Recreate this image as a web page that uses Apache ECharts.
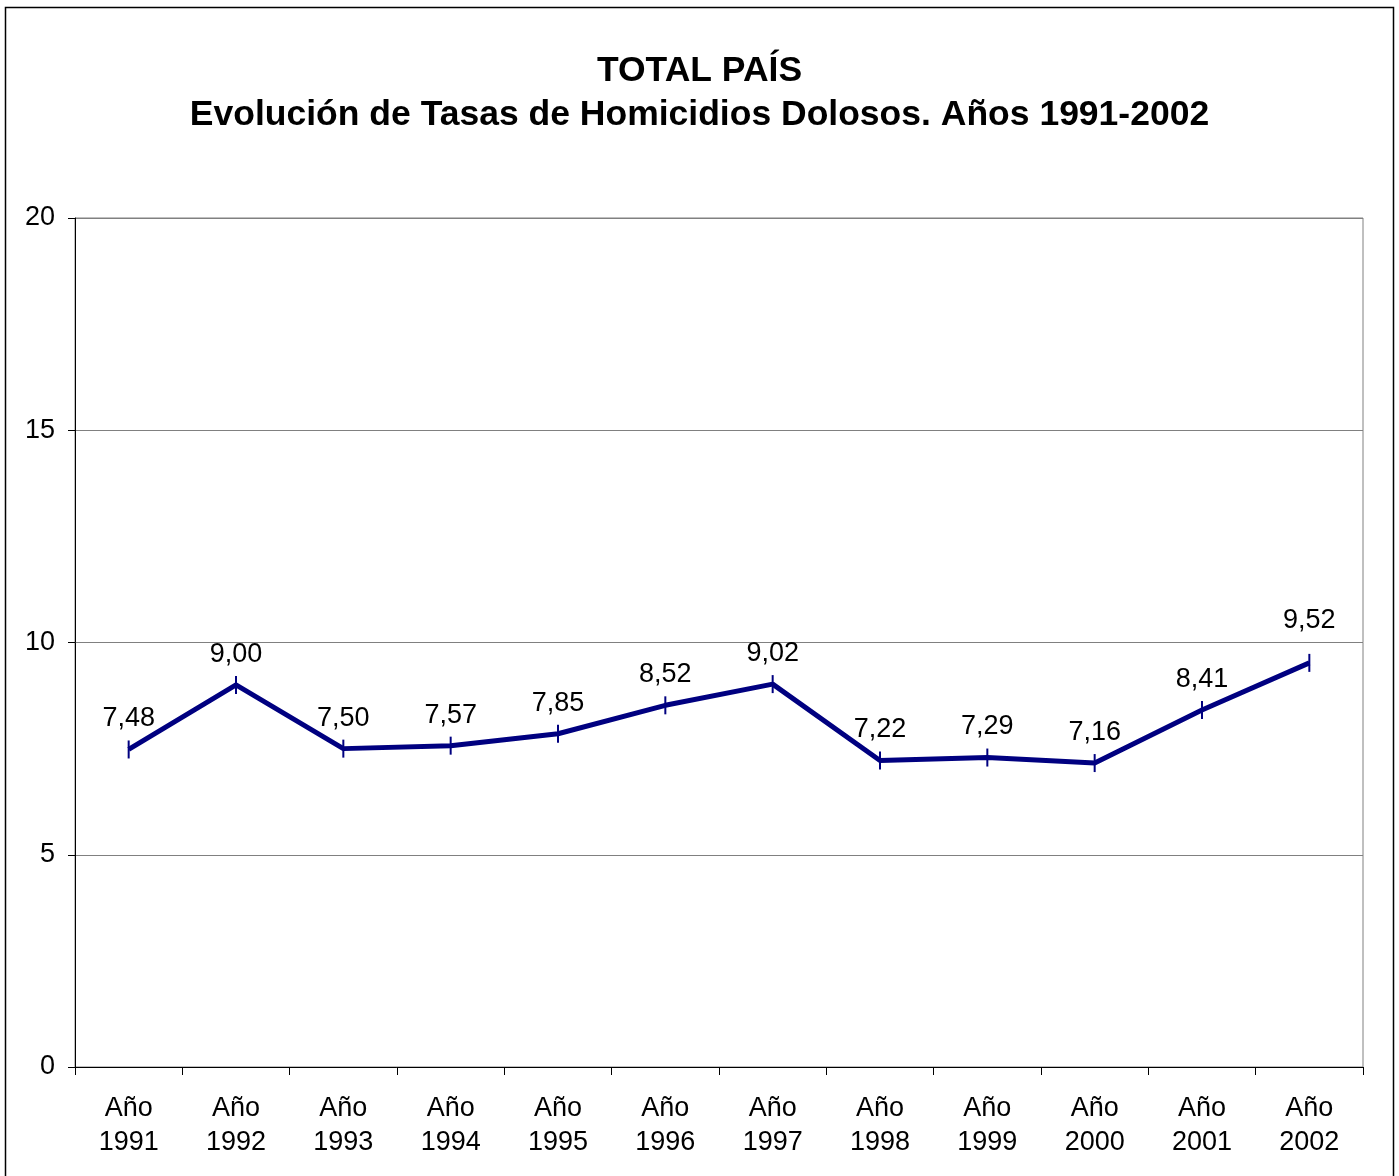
<!DOCTYPE html>
<html>
<head>
<meta charset="utf-8">
<script src="https://cdn.jsdelivr.net/npm/echarts@6/dist/echarts.min.js"></script>
<style>
  html, body { margin: 0; padding: 0; background: #fff; }
  #chart { width: 1399px; height: 1176px; }
</style>
</head>
<body>
<div id="chart"></div>
<script>
// datos
const years = ["1991", "1992", "1993", "1994", "1995", "1996", "1997", "1998", "1999", "2000", "2001", "2002"];
const tasas = [7.48, 9.00, 7.50, 7.57, 7.85, 8.52, 9.02, 7.22, 7.29, 7.16, 8.41, 9.52];
const yTicks = [0, 5, 10, 15, 20];

const chart = echarts.init(document.getElementById("chart"));
const font = "Liberation Sans, Arial, sans-serif";

// el ultimo rotulo va un poco mas alto, como en el original
const seriesData = tasas.map((v, i) =>
  i === tasas.length - 1 ? { value: v, label: { distance: 20 } } : v
);

chart.setOption({
  animation: false,
  backgroundColor: "#fff",
  textStyle: { fontFamily: font },
  title: {
    text: "TOTAL PAÍS\nEvolución de Tasas de Homicidios Dolosos. Años 1991-2002",
    left: "center",
    top: 44,
    textStyle: {
      fontFamily: font,
      fontSize: 35.5,
      fontWeight: "bold",
      color: "#000",
      lineHeight: 44,
    },
  },
  graphic: [
    {
      type: "rect",
      shape: { x: 5.5, y: 7.5, width: 1388, height: 1190 },
      style: { fill: "none", stroke: "#000", lineWidth: 1.5 },
      silent: true,
      z: 100,
    },
  ],
  grid: {
    left: 75,
    right: 36,
    top: 218,
    bottom: 109,
    show: true,
    borderColor: "#808080",
    borderWidth: 1,
  },
  xAxis: {
    type: "category",
    data: years.map((y) => "Año\n" + y),
    boundaryGap: true,
    axisLine: { lineStyle: { color: "#000", width: 1 } },
    axisTick: { show: true, length: 8, inside: false, lineStyle: { color: "#000" } },
    axisLabel: {
      color: "#000",
      fontSize: 27,
      lineHeight: 34,
      margin: 25,
      interval: 0,
      fontFamily: font,
    },
  },
  yAxis: {
    type: "value",
    min: yTicks[0],
    max: yTicks[yTicks.length - 1],
    interval: 5,
    axisLine: { show: true, lineStyle: { color: "#000", width: 1 } },
    axisTick: { show: true, length: 7, lineStyle: { color: "#000" } },
    splitLine: { show: true, lineStyle: { color: "#808080", width: 1 } },
    axisLabel: { color: "#000", fontSize: 27, margin: 20, fontFamily: font },
  },
  series: [
    {
      type: "line",
      data: seriesData,
      symbol: "rect",
      symbolSize: [2, 18],
      itemStyle: { color: "#000080" },
      lineStyle: { color: "#000080", width: 5 },
      label: {
        show: true,
        position: "top",
        distance: 8,
        color: "#000",
        fontSize: 27,
        fontFamily: font,
        formatter: (p) => p.value.toFixed(2).replace(".", ","),
      },
    },
  ],
});
</script>
</body>
</html>
